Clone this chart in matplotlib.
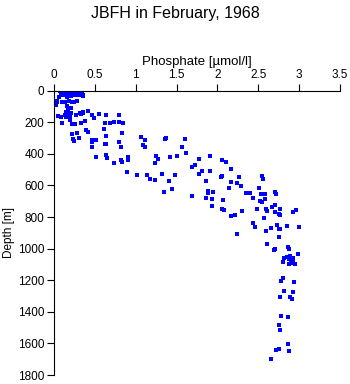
import matplotlib
matplotlib.use("Agg")
import matplotlib.pyplot as plt

plt.rcParams['font.family'] = ['Liberation Sans', 'DejaVu Sans']

title = "JBFH in February, 1968"
xlabel = "Phosphate [\u00b5mol/l]"
ylabel = "Depth [m]"
xticks = [0, 0.5, 1, 1.5, 2, 2.5, 3, 3.5]
xticklabels = ["0", "0.5", "1", "1.5", "2", "2.5", "3", "3.5"]
yticks = [0, 200, 400, 600, 800, 1000, 1200, 1400, 1600, 1800]

# surface cluster
phos_surface = [0.07, 0.10, 0.13, 0.16, 0.19, 0.22, 0.25, 0.28, 0.31, 0.34,
                0.09, 0.12, 0.15, 0.18, 0.21, 0.24, 0.27, 0.30,
                0.10, 0.13, 0.16, 0.19, 0.22, 0.25, 0.28, 0.08, 0.14, 0.20, 0.26, 0.36,
                0.06, 0.04, 0.02, 0.10, 0.14, 0.18, 0.22, 0.25, 0.28, 0.35,
                0.16, 0.17, 0.21, 0.21, 0.32, 0.36, 0.09, 0.15, 0.17, 0.33, 0.04,
                0.085, 0.115, 0.145, 0.175, 0.205, 0.235, 0.265, 0.295,
                0.11, 0.17, 0.23, 0.29, 0.12, 0.18, 0.24, 0.30, 0.16, 0.21]
depth_surface = [2, 0, 3, 0, 2, 0, 3, 1, 2, 5,
                 10, 8, 12, 9, 11, 8, 12, 10,
                 20, 18, 22, 19, 22, 18, 22, 28, 30, 28, 30, 35,
                 40, 67, 90, 70, 72, 68, 74, 70, 65, 27,
                 97, 122, 108, 139, 139, 135, 166, 135, 128, 29, 72,
                 5, 4, 6, 5, 6, 4, 6, 5,
                 15, 14, 15, 16, 25, 26, 25, 26, 38, 36]

# upper thermocline
phos_upper = [0.05, 0.13, 0.15, 0.18, 0.20, 0.27, 0.33, 0.36, 0.42, 0.47, 0.49, 0.55,
              0.64, 0.79, 0.10, 0.20, 0.22, 0.26, 0.33, 0.38, 0.62, 0.69, 0.74, 0.79,
              0.84, 0.22, 0.23, 0.25, 0.28, 0.31, 0.39, 0.42, 0.47, 0.47, 0.51, 0.61,
              0.64, 0.63, 0.64, 0.79, 0.83, 0.82, 0.47, 0.51, 0.64, 0.65, 0.73, 0.82,
              0.83, 0.91, 0.91]
depth_upper = [158, 152, 168, 143, 160, 156, 146, 143, 130, 154, 173, 149,
               156, 156, 203, 185, 211, 211, 206, 190, 203, 206, 200, 200,
               206, 274, 304, 317, 270, 301, 249, 261, 312, 325, 312, 241,
               287, 337, 340, 327, 268, 358, 358, 422, 409, 428, 460, 439,
               449, 420, 439]

# middle
phos_mid = [1.06, 1.09, 1.11, 1.11, 1.36, 1.37, 1.25, 1.27, 1.23, 1.42, 1.50,
            1.14, 1.17, 1.24, 1.32, 1.41, 1.48, 1.35, 1.45, 0.89, 1.01,
            1.60, 1.57, 1.62, 1.77, 1.91, 2.06, 2.10, 1.69, 1.73, 1.81, 1.91,
            1.78, 2.17, 2.04, 2.06, 2.26, 2.54, 2.56, 1.86, 2.17, 2.24, 2.29,
            2.14, 2.51, 1.88, 1.88, 1.94, 1.69, 1.86, 1.93, 2.35, 2.40, 2.43,
            2.53, 2.58, 2.70, 2.72, 2.58]
depth_mid = [295, 346, 354, 314, 308, 299, 415, 434, 460, 418, 415,
             532, 561, 563, 527, 573, 536, 643, 624, 517, 536,
             308, 358, 396, 434, 411, 439, 451, 481, 472, 510, 510,
             527, 496, 548, 542, 548, 540, 561, 573, 580, 586, 603,
             616, 618, 635, 649, 643, 668, 679, 684, 649, 649, 681,
             654, 654, 641, 654, 684]

# deep water
phos_deep = [1.93, 2.07, 2.06, 2.08, 2.17, 2.22, 2.30, 2.24, 2.48, 2.52, 2.55,
             2.60, 2.61, 2.57, 2.67, 2.71, 2.71, 2.76, 2.75, 2.77, 2.93, 2.96,
             2.44, 2.46, 2.59, 2.66, 2.73, 2.75, 2.77, 2.85, 3.00, 2.75, 2.61,
             2.71, 2.69, 2.86, 2.88, 2.99, 2.81, 2.85, 2.87, 2.89, 2.92, 2.80,
             2.88, 2.90, 2.93, 2.95, 2.80, 2.78, 2.94, 2.81, 2.92, 2.76, 2.89,
             2.91, 2.78, 2.86, 2.75, 2.77, 2.86, 2.72, 2.75, 2.88, 2.65]
depth_deep = [730, 695, 750, 757, 793, 789, 762, 909, 751, 696, 706,
              751, 763, 804, 738, 722, 768, 751, 782, 789, 770, 757,
              839, 865, 890, 871, 852, 877, 877, 858, 865, 928, 970,
              1004, 1010, 989, 1004, 1032, 1057, 1055, 1063, 1044, 1061, 1086,
              1099, 1089, 1084, 1095, 1188, 1203, 1213, 1270, 1276, 1308, 1308,
              1317, 1428, 1434, 1485, 1513, 1605, 1643, 1637, 1648, 1700]

phos = phos_surface + phos_upper + phos_mid + phos_deep
depth = depth_surface + depth_upper + depth_mid + depth_deep

fig = plt.figure(figsize=(3.5, 3.84), dpi=100)
ax = fig.add_axes([0.1543, 0.0234, 0.8171, 0.7404])

ax.scatter(phos, depth, marker='s', s=6.5, color='#0000ff', linewidths=0)

ax.set_xlim(0, 3.5)
ax.set_ylim(1800, 0)
ax.xaxis.set_ticks_position('top')
ax.xaxis.set_label_position('top')
ax.set_xticks(xticks)
ax.set_xticklabels(xticklabels)
ax.set_yticks(yticks)
ax.tick_params(axis='both', direction='out', length=5, width=0.8,
               labelsize=8.5, colors='black', pad=2)
for s in ['bottom', 'right']:
    ax.spines[s].set_visible(False)
for s in ['top', 'left']:
    ax.spines[s].set_linewidth(0.8)

ax.set_xlabel(xlabel, fontsize=9.5, labelpad=3)
ax.set_ylabel(ylabel, fontsize=8.5, labelpad=2)
fig.text(0.5, 0.965, title, ha='center', va='center', fontsize=11.5)

fig.savefig("out.png", dpi=100)
